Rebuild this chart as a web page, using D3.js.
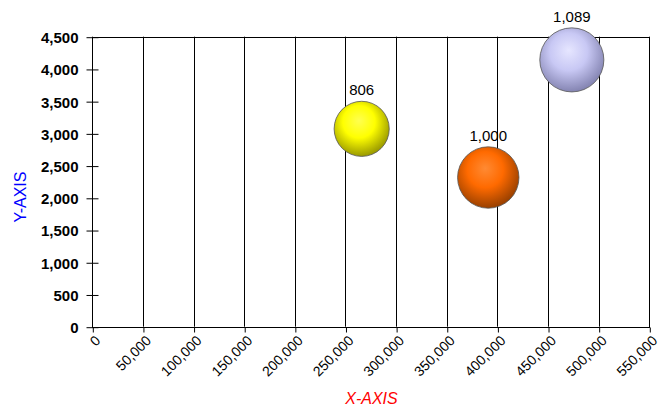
<!DOCTYPE html>
<html><head><meta charset="utf-8">
<script src="https://cdn.jsdelivr.net/npm/d3@7"></script>
<style>body{margin:0;background:#fff}svg{display:block}</style>
</head><body>
<script>
const xValues = [266000, 391000, 473500];
const yValues = [3070, 2315, 4140];
const sizes = [806, 1000, 1089];
const sizeLabels = ["806", "1,000", "1,089"];
const colors = [
  ["#ffff50", "#ffff00", "#8a8a00"],
  ["#ff8a33", "#ff6a00", "#8a3a00"],
  ["#e6e6ff", "#c8c8f4", "#7a7aa8"]
];
const xTicks = [0,50000,100000,150000,200000,250000,300000,350000,400000,450000,500000,550000];
const yTicks = [0,500,1000,1500,2000,2500,3000,3500,4000,4500];

const W = 665, H = 408;
const FONT = "Arial, 'Liberation Sans', sans-serif";
const m = {left: 92.3, right: 665-649.3, top: 36.7, bottom: 408-326.7};
const svg = d3.select("body").append("svg").attr("width", W).attr("height", H)
  .style("font-family", FONT);
const x = d3.scaleLinear().domain([0, 550000]).range([m.left, W - m.right]);
const y = d3.scaleLinear().domain([0, 4500]).range([H - m.bottom, m.top]);
const r = d3.scaleSqrt().domain([0, 1000]).range([0, 30.7]);
const fmt = d3.format(",");

const defs = svg.append("defs");
colors.forEach((c, i) => {
  const g = defs.append("radialGradient").attr("id", "g" + i)
    .attr("cx", "45%").attr("cy", "40%").attr("r", "65%").attr("fx", "45%").attr("fy", "35%");
  g.append("stop").attr("offset", "0%").attr("stop-color", c[0]);
  g.append("stop").attr("offset", "45%").attr("stop-color", c[1]);
  g.append("stop").attr("offset", "100%").attr("stop-color", c[2]);
});

// vertical gridlines
svg.append("g").selectAll("line").data(xTicks).join("line")
  .attr("x1", d => Math.round(x(d)) + 0.5).attr("x2", d => Math.round(x(d)) + 0.5)
  .attr("y1", y(4500)).attr("y2", y(0)).attr("stroke", "#000");
// frame
svg.append("rect").attr("x", Math.round(x(0)) + 0.5).attr("y", Math.round(y(4500)) + 0.5)
  .attr("width", Math.round(x(550000)) - Math.round(x(0))).attr("height", Math.round(y(0)) - Math.round(y(4500)))
  .attr("fill", "none").attr("stroke", "#000");

// y axis
const ya = svg.append("g").attr("transform", `translate(${Math.round(x(0)) + 0.5},0.5)`)
  .call(d3.axisLeft(y).tickValues(yTicks).tickFormat(fmt).tickSizeInner(6).tickSizeOuter(0).tickPadding(8));
ya.select(".domain").remove();
ya.selectAll(".tick line").attr("x1", 6).attr("x2", -6).attr("stroke", "#000");
ya.selectAll(".tick text").attr("font-size", 15).attr("font-weight", "bold").attr("fill", "#000")
  .attr("font-family", FONT).attr("dy", "0.36em");

// x axis
const xa = svg.append("g").attr("transform", `translate(0.5,${Math.round(y(0)) + 0.5})`)
  .call(d3.axisBottom(x).tickValues(xTicks).tickFormat(fmt).tickSizeInner(5).tickSizeOuter(0));
xa.select(".domain").remove();
xa.selectAll(".tick line").attr("stroke", "#000");
xa.selectAll(".tick text").attr("font-size", 14).attr("fill", "#000")
  .attr("font-family", FONT)
  .attr("text-anchor", "end").attr("dy", null).attr("y", 0)
  .attr("transform", "translate(8,14) rotate(-45)");

// bubbles
const pts = xValues.map((v, i) => ({x: v, y: yValues[i], s: sizes[i], l: sizeLabels[i], i}));
svg.append("g").selectAll("circle").data(pts).join("circle")
  .attr("cx", d => x(d.x)).attr("cy", d => y(d.y)).attr("r", d => r(d.s))
  .attr("fill", d => `url(#g${d.i})`).attr("stroke", "#555").attr("stroke-width", 0.8);
svg.append("g").selectAll("text").data(pts).join("text")
  .attr("x", d => x(d.x)).attr("y", d => y(d.y) - r(d.s) - 6)
  .attr("text-anchor", "middle").attr("font-size", 15).attr("fill", "#000").text(d => d.l);

// axis titles
svg.append("text").attr("transform", `translate(26,197) rotate(-90)`)
  .attr("text-anchor", "middle").attr("font-size", 16).attr("fill", "#0000ff").text("Y-AXIS");
svg.append("text").attr("x", 371.5).attr("y", 403.5)
  .attr("text-anchor", "middle").attr("font-size", 16).attr("font-style", "italic").attr("fill", "#ff0000").text("X-AXIS");
</script>
</body></html>
